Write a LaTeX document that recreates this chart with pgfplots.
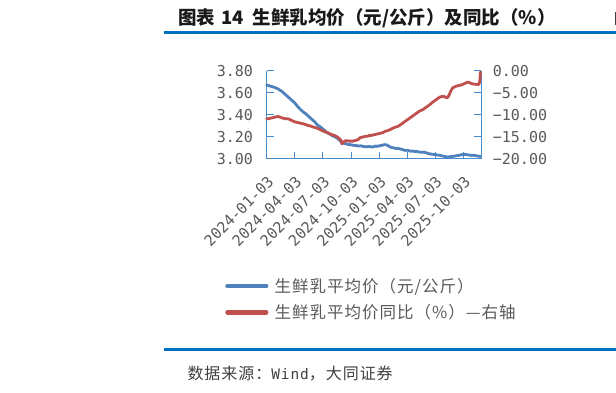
\documentclass[border=0pt]{standalone}
\usepackage{pgfplots}
\pgfplotsset{compat=1.18}
\usepackage{fontspec}
\setmainfont{DejaVu Sans Mono}
\newfontfamily\cjk{Noto Sans CJK SC}
\newfontfamily\cjkl[LetterSpace=6]{Noto Sans CJK SC}
\definecolor{axblue}{RGB}{72,140,208}
\definecolor{lblue}{RGB}{79,129,189}
\definecolor{lred}{RGB}{192,80,77}
\definecolor{tgray}{RGB}{89,89,89}
\definecolor{rulec}{RGB}{0,112,192}

\pgfplotstableread{
d v
0 3.670
6 3.665
12 3.660
18 3.655
24 3.650
30 3.643
36 3.636
42 3.625
48 3.615
54 3.600
60 3.585
66 3.570
72 3.555
78 3.540
84 3.525
90 3.510
96 3.490
102 3.470
108 3.452
114 3.436
120 3.422
126 3.410
132 3.396
138 3.380
144 3.365
150 3.350
156 3.335
162 3.315
168 3.300
174 3.290
180 3.275
186 3.262
192 3.245
198 3.235
204 3.225
210 3.215
216 3.205
222 3.198
228 3.190
234 3.175
240 3.160
246 3.145
252 3.140
258 3.135
264 3.130
270 3.128
276 3.125
282 3.122
288 3.120
294 3.118
300 3.115
306 3.118
312 3.112
318 3.110
324 3.108
330 3.112
336 3.110
342 3.105
348 3.110
354 3.115
360 3.112
366 3.118
372 3.120
378 3.125
384 3.128
390 3.125
396 3.115
402 3.105
408 3.100
414 3.098
420 3.092
426 3.095
432 3.090
438 3.085
444 3.080
450 3.075
456 3.078
462 3.072
468 3.068
474 3.070
480 3.065
486 3.068
492 3.062
498 3.060
504 3.058
510 3.060
516 3.055
522 3.050
528 3.045
534 3.042
540 3.040
546 3.038
552 3.035
558 3.032
564 3.030
570 3.025
576 3.022
582 3.018
588 3.015
594 3.018
600 3.020
606 3.022
612 3.025
618 3.028
624 3.030
630 3.035
636 3.038
642 3.040
648 3.038
654 3.035
660 3.032
666 3.030
672 3.032
678 3.028
684 3.025
690 3.022
694 3.020
}\pricetab

\pgfplotstableread{
d v
0 -10.9
6 -10.9
12 -10.8
18 -10.7
24 -10.6
30 -10.5
36 -10.4
42 -10.5
48 -10.7
54 -10.8
60 -10.9
66 -10.9
72 -11.0
78 -11.2
84 -11.4
90 -11.6
96 -11.7
102 -11.8
108 -11.9
114 -12.0
120 -12.1
126 -12.2
132 -12.4
138 -12.5
144 -12.6
150 -12.8
156 -12.9
162 -13.0
168 -13.2
174 -13.4
180 -13.6
186 -13.8
192 -13.95
198 -14.1
204 -14.3
210 -14.5
216 -14.6
222 -14.8
228 -15.0
234 -15.3
240 -15.7
244 -16.6
250 -16.2
256 -15.9
262 -15.9
268 -16.0
274 -16.0
280 -16.0
286 -15.9
292 -15.8
298 -15.6
304 -15.2
310 -15.1
316 -15.0
322 -14.9
328 -14.9
334 -14.7
340 -14.7
346 -14.6
352 -14.5
358 -14.4
364 -14.3
370 -14.2
376 -14.1
382 -13.9
388 -13.7
394 -13.6
400 -13.4
406 -13.2
412 -13.0
418 -12.8
424 -12.7
430 -12.5
436 -12.2
442 -11.9
448 -11.6
454 -11.3
460 -11.0
466 -10.7
472 -10.4
478 -10.1
484 -9.8
490 -9.5
496 -9.2
502 -9.0
508 -8.8
514 -8.5
520 -8.2
526 -7.9
532 -7.6
538 -7.2
544 -6.9
550 -6.6
556 -6.3
562 -6.0
568 -5.9
574 -5.8
580 -6.0
586 -6.2
592 -5.6
598 -4.6
604 -3.9
610 -3.7
616 -3.5
622 -3.4
628 -3.3
634 -3.2
640 -3.0
646 -2.8
652 -2.6
658 -2.7
664 -2.9
670 -3.0
676 -3.1
682 -3.1
688 -3.2
692 -2.5
694 -0.3
}\yoytab

\begin{document}
\begin{tikzpicture}[x=1pt,y=1pt]
\path[use as bounding box] (0,0) rectangle (616,392);
% title
\node[anchor=west, inner sep=0pt, text=black!90] at (178,373.5)
  {\cjk\bfseries\fontsize{18.5}{20}\selectfont 图表\hspace{6pt}14\hspace{9pt}生鲜乳均价（元/公斤）及同比（\%）};
\draw[rulec, line width=3pt] (164,359.7) -- (616,359.7);
\fill[black!75] (614.6,367) rectangle (616,380);
% source
\draw[rulec, line width=3.2pt] (164,42.3) -- (616,42.3);
\node[anchor=west, inner sep=0pt, text=black!75] at (187.3,18)
  {\cjkl\fontsize{16}{18}\selectfont 数据来源：{\fontspec[LetterSpace=6]{DejaVu Sans Mono}\fontsize{14.5}{16}\selectfont Wind}，大同证券};

\pgfplotsset{
  myax/.style={
    at={(266.7pt,233.3pt)}, anchor=south west, scale only axis,
    width=214.3pt, height=88pt,
    xmin=0, xmax=696, clip=false,
    axis line style={draw=axblue, line width=1pt},
    major tick style={draw=axblue, line width=1pt},
    major tick length=7pt, tick align=inside,
    ticklabel style={font=\fontsize{15}{15}\selectfont, text=tgray, inner sep=0pt},
  }
}

\begin{axis}[myax,
  axis x line*=bottom, axis y line*=left,
  ymin=3, ymax=3.8,
  ytick={3,3.2,3.4,3.6,3.8},
  yticklabels={3.00,3.20,3.40,3.60,3.80},
  yticklabel style={xshift=-13.6pt},
  xtick={0,91,182,274,366,456,547,639},
  xticklabels={2024-01-03,2024-04-03,2024-07-03,2024-10-03,2025-01-03,2025-04-03,2025-07-03,2025-10-03},
  xticklabel style={xshift=4pt, yshift=-20.5pt, rotate=45, anchor=east},
]
\addplot[lblue, line width=2.8pt, line join=round, line cap=round] table[x=d,y=v] {\pricetab};
\end{axis}

\begin{axis}[myax,
  axis x line=none, axis y line*=right,
  ymin=-20, ymax=0,
  ytick={-20,-15,-10,-5,0},
  yticklabels={−20.00,−15.00,−10.00,−5.00,0.00},
  yticklabel style={xshift=11.7pt},
  legend style={at={(-0.1946,-1.356)}, anchor=north west, draw=none, fill=none,
    font=\cjkl\fontsize{16.5}{18}\selectfont, text=tgray, row sep=10.6pt,
    inner sep=0pt, nodes={inner sep=0pt}},
  legend cell align=left,
  legend image code/.code={\path[draw=none,fill=none] (0pt,0pt) -- (49.5pt,0pt);
    \draw[#1, line width=4.5pt, line cap=round] (2.3pt,0pt) -- (41pt,0pt);},
]
\addlegendimage{lblue}
\addlegendentry{生鲜乳平均价（元/公斤）}
\addplot[lred, line width=2.8pt, line join=round, line cap=round] table[x=d,y=v] {\yoytab};
\addlegendentry{生鲜乳平均价同比（\%）—右轴}
\end{axis}
\end{tikzpicture}
\end{document}
